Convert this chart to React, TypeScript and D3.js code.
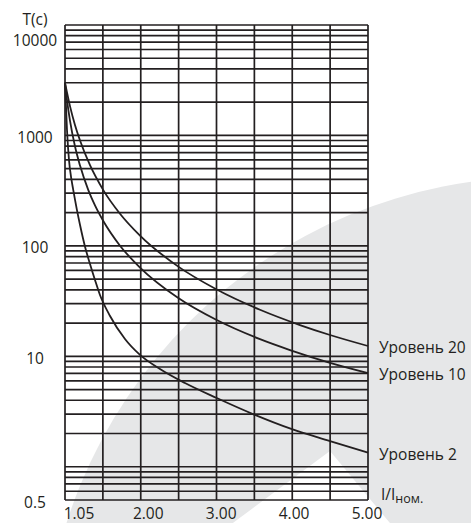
import React from "react";
import * as d3 from "d3";

const W = 471;
const H = 523;

// Tick labels
const xTickValues = [1.05, 2, 3, 4, 5];
const yTickValues = [0.5, 10, 100, 1000, 10000];

// Curves: x = I/Iном, T in seconds
const level2X = [1.05, 1.076, 1.102, 1.135, 1.158, 1.206, 1.246, 1.311, 1.376, 1.441, 1.506, 1.637, 1.832, 2.028, 2.288, 2.614, 3.028, 3.5, 4.0, 4.505, 5.0];
const level2T = [3000, 1120, 599, 395, 320, 211, 154.5, 98.3, 68.5, 49.1, 35.9, 23.2, 14.35, 10.3, 7.68, 5.73, 4.19, 3.0, 2.2, 1.71, 1.34];

const level10X = [1.05, 1.076, 1.115, 1.18, 1.246, 1.354, 1.441, 1.549, 1.767, 2.028, 2.527, 3.028, 3.592, 3.983, 4.505, 5.0];
const level10T = [3000, 2084, 1359, 797, 533, 320, 232.5, 168, 100.4, 63.6, 33.7, 21.3, 14.3, 11.4, 8.74, 7.06];

const level20X = [1.05, 1.076, 1.115, 1.18, 1.246, 1.376, 1.549, 1.767, 2.028, 2.527, 3.028, 3.592, 4.113, 4.505, 5.0];
const level20T = [3000, 2453, 1843, 1245, 900, 538, 320, 195.6, 123.9, 64.9, 40.3, 26.4, 19.2, 15.6, 12.4];

const levelNames = ["Уровень 2", "Уровень 10", "Уровень 20"];

const gridColumns = 8;

const M = { left: 65, right: 368, top: 25, bottom: 500 };
const INK = "#231f20";
const FONT = "'Open Sans', 'Noto Sans', sans-serif";
const FS = 15.5;

export default function App() {
  const x = d3.scaleLinear().domain([1.05, 5]).range([M.left, M.right]);
  const xLabel = d3.scaleLinear().domain([1.05, 5]).range([79, 367]);
  const y = d3.scaleLog().domain([0.5, 10000]).range([M.bottom, M.top]);
  const gx = d3.scaleLinear().domain([0, gridColumns]).range([M.left, M.right]);

  // log grid lines
  const hLines: number[] = [];
  for (let e = -1; e <= 3; e++) {
    for (let k = 1; k <= 9; k++) {
      const v = k * Math.pow(10, e);
      if (v >= 0.5 - 1e-9 && v <= 10000) hLines.push(v);
    }
  }
  hLines.push(10000);

  const series = [
    { name: levelNames[0], xs: level2X, ts: level2T },
    { name: levelNames[1], xs: level10X, ts: level10T },
    { name: levelNames[2], xs: level20X, ts: level20T },
  ];

  const line = d3
    .line<[number, number]>()
    .x((d) => x(d[0]))
    .y((d) => y(d[1]))
    .curve(d3.curveMonotoneX);

  return (
    <svg
      width={W}
      height={H}
      style={{ position: "absolute", left: 0, top: 0, display: "block", background: "#fff" }}
    >
      {/* watermark */}
      <circle cx={540} cy={674} r={497} fill="#e6e7e8" />
      <polygon points="330,451 129,600 454,600" fill="#ffffff" />

      {/* horizontal grid */}
      {hLines.map((v, i) => (
        <line
          key={"h" + i}
          x1={M.left}
          x2={M.right}
          y1={y(v)}
          y2={y(v)}
          stroke={INK}
          strokeWidth={1.7}
        />
      ))}
      {/* vertical grid */}
      {d3.range(gridColumns + 1).map((i) => (
        <line
          key={"v" + i}
          x1={gx(i)}
          x2={gx(i)}
          y1={M.top}
          y2={M.bottom}
          stroke={INK}
          strokeWidth={1.7}
        />
      ))}

      {/* curves */}
      {series.map((s) => (
        <path
          key={s.name}
          d={line(s.xs.map((v, i) => [v, s.ts[i]] as [number, number])) || ""}
          fill="none"
          stroke={INK}
          strokeWidth={1.8}
        />
      ))}

      {/* curve labels */}
      {series.map((s) => (
        <text
          key={"l" + s.name}
          x={M.right + 11}
          y={y(s.ts[s.ts.length - 1]) + 1}
          dominantBaseline="central"
          fontFamily={FONT}
          fontSize={FS}
          fill={INK}
        >
          {s.name}
        </text>
      ))}

      {/* y labels */}
      <text x={35} y={25} textAnchor="middle" fontFamily={FONT} fontSize={FS} fill={INK}>
        T(c)
      </text>
      {yTickValues.map((v) => (
        <text
          key={"y" + v}
          x={35}
          y={Math.max(y(v), M.top + 13) + 1.5}
          textAnchor="middle"
          dominantBaseline="central"
          fontFamily={FONT}
          fontSize={FS}
          fill={INK}
        >
          {v}
        </text>
      ))}

      {/* x labels */}
      {xTickValues.map((v) => (
        <text
          key={"x" + v}
          x={xLabel(v)}
          y={518.5}
          textAnchor="middle"
          fontFamily={FONT}
          fontSize={FS}
          fill={INK}
        >
          {v.toFixed(2)}
        </text>
      ))}

      <text x={381} y={500} fontFamily={FONT} fontSize={FS} fill={INK}>
        I/I
        <tspan fontSize={12.5} dy={3}>ном.</tspan>
      </text>
    </svg>
  );
}
